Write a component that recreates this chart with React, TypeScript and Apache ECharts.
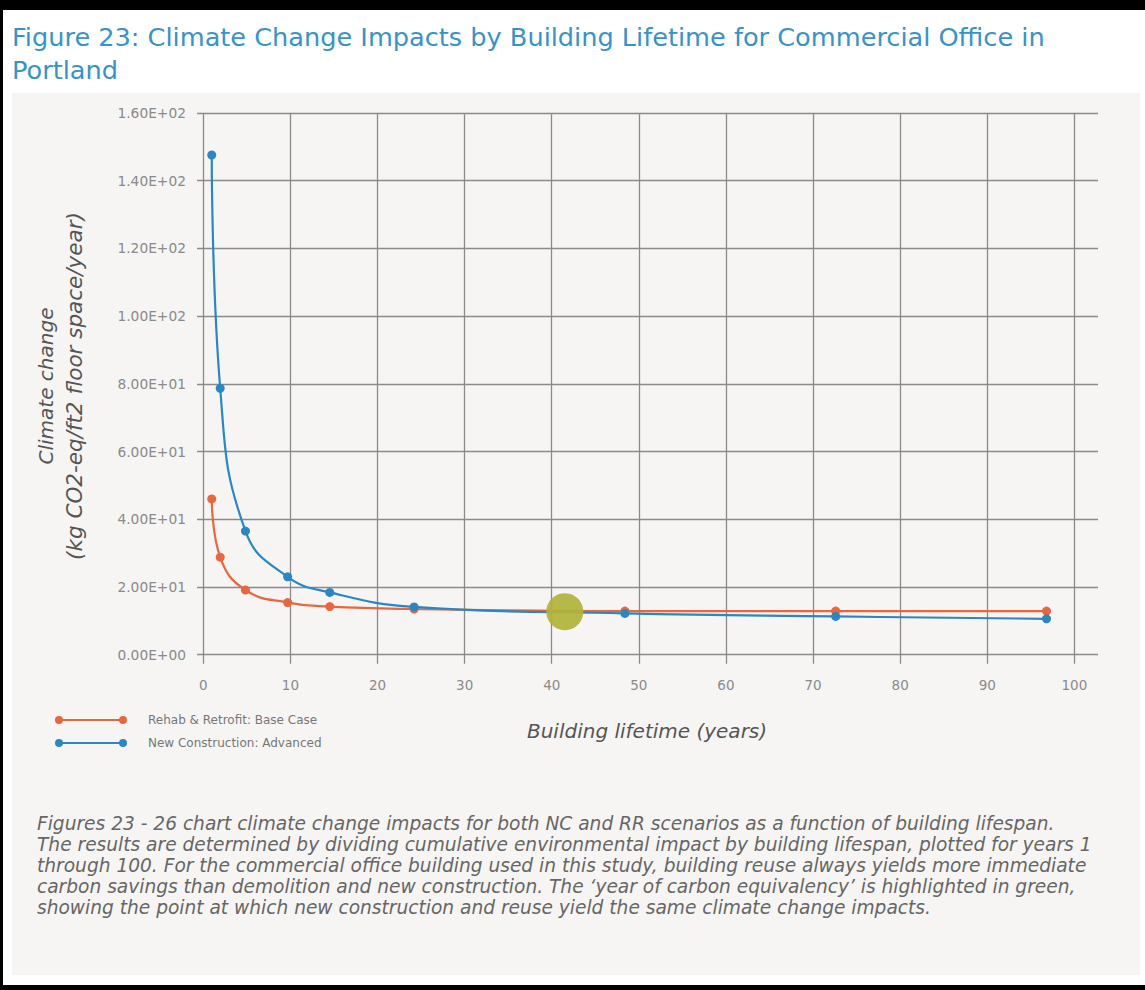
import React, { useEffect, useRef } from "react";
import * as echarts from "echarts";

// ---- data ----
const years = [0.97, 1.94, 4.84, 9.68, 14.52, 24.2, 48.4, 72.6, 96.8];
const rehabValues = [46.0, 28.8, 19.1, 15.4, 14.2, 13.5, 12.9, 12.9, 12.9];
const newConstructionValues = [147.6, 78.7, 36.5, 23.0, 18.4, 14.1, 12.2, 11.3, 10.6];
const equivalencyPoint = [41.5, 12.7];
const seriesNames = ["Rehab & Retrofit: Base Case", "New Construction: Advanced"];
const yTicks = [0, 20, 40, 60, 80, 100, 120, 140, 160];
const xTicks = [0, 10, 20, 30, 40, 50, 60, 70, 80, 90, 100];

const titleLines = [
  "Figure 23: Climate Change Impacts by Building Lifetime for Commercial Office in",
  "Portland",
];
const captionLines = [
  "Figures 23 - 26 chart climate change impacts for both NC and RR scenarios as a function of building lifespan.",
  "The results are determined by dividing cumulative environmental impact by building lifespan, plotted for years 1",
  "through 100. For the commercial office building used in this study, building reuse always yields more immediate",
  "carbon savings than demolition and new construction. The \u2018year of carbon equivalency\u2019 is highlighted in green,",
  "showing the point at which new construction and reuse yield the same climate change impacts.",
];
const yAxisNameLines = ["Climate change", "(kg CO2-eq/ft2 floor space/year)"];
const xAxisName = "Building lifetime (years)";

const ORANGE = "#e8673f";
const BLUE = "#2a87c2";
const GREEN = "#b0b33a";
const GRID = "#8a8a8a";
const FONT = "'DejaVu Sans', sans-serif";

function sci(v: number): string {
  if (v === 0) return "0.00E+00";
  const e = Math.floor(Math.log10(Math.abs(v)));
  const m = v / Math.pow(10, e);
  return `${m.toFixed(2)}E${e >= 0 ? "+" : "-"}${String(Math.abs(e)).padStart(2, "0")}`;
}

const legendIcon =
  "path://M4,0 A4,4 0 1,1 4,8 A4,4 0 1,1 4,0 Z M4,3 L68,3 L68,5 L4,5 Z M68,0 A4,4 0 1,1 68,8 A4,4 0 1,1 68,0 Z";

export default function App() {
  const ref = useRef<HTMLDivElement>(null);

  useEffect(() => {
    if (!ref.current) return;
    const chart = echarts.init(ref.current, undefined, { renderer: "svg" });

    const top = 113;
    const bottom = 990 - 654.7;

    const graphics: any[] = [
      { type: "rect", z: -10, shape: { x: 0, y: 0, width: 1145, height: 990 }, style: { fill: "#000" }, silent: true },
      { type: "rect", z: -9, shape: { x: 3, y: 10, width: 1142, height: 975 }, style: { fill: "#fff" }, silent: true },
      { type: "rect", z: -8, shape: { x: 12, y: 93, width: 1128, height: 882 }, style: { fill: "#f6f5f4" }, silent: true },
    ];
    titleLines.forEach((t, i) => {
      graphics.push({
        type: "text",
        x: 12,
        y: 37 + i * 33,
        style: { text: t, fill: "#3893c6", font: `25.6px ${FONT}`, textVerticalAlign: "middle" },
      });
    });
    captionLines.forEach((t, i) => {
      graphics.push({
        type: "text",
        x: 37,
        y: 823 + i * 21,
        style: { text: t, fill: "#666", font: `oblique 18.6px ${FONT}`, textVerticalAlign: "middle" },
      });
    });
    yAxisNameLines.forEach((t, i) => {
      graphics.push({
        type: "text",
        x: 46 + i * 28,
        y: 386,
        rotation: Math.PI / 2,
        style: { text: t, fill: "#555", font: `oblique ${i === 0 ? 20 : 21.5}px ${FONT}`, textAlign: "center", textVerticalAlign: "middle" },
      });
    });
    graphics.push({
      type: "text",
      x: 647,
      y: 731,
      style: { text: xAxisName, fill: "#555", font: `oblique 20px ${FONT}`, textAlign: "center", textVerticalAlign: "middle" },
    });

    const toPairs = (vals: number[]) => years.map((x, i) => [x, vals[i]]);

    chart.setOption({
      animation: false,
      backgroundColor: "transparent",
      graphic: graphics,
      legend: {
        data: seriesNames,
        orient: "vertical",
        left: 50,
        top: 709,
        itemWidth: 72,
        itemHeight: 8,
        itemGap: 11,
        icon: legendIcon,
        textStyle: { color: "#777", fontSize: 12, fontFamily: FONT, padding: [0, 0, 0, 16] },
      },
      grid: [
        { left: 197, right: 1145 - 1098, top, bottom },
        { left: 203.3, right: 1145 - 1074.4, top, bottom },
      ],
      xAxis: [
        { gridIndex: 0, type: "value", min: 0, max: 1, show: false },
        {
          gridIndex: 1,
          type: "value",
          min: 0,
          max: 100,
          interval: 10,
          axisLine: { show: false },
          axisTick: { show: true, length: 9, lineStyle: { color: GRID, width: 1.3 } },
          splitLine: { show: true, lineStyle: { color: GRID, width: 1.3 } },
          axisLabel: {
            margin: 23,
            color: "#8a8a8a",
            fontSize: 13.5,
            fontFamily: FONT,
            formatter: (v: number) => (xTicks.includes(v) ? String(v) : ""),
          },
        },
      ],
      yAxis: [
        {
          gridIndex: 0,
          type: "value",
          min: 0,
          max: 160,
          interval: 20,
          axisLine: { show: false },
          axisTick: { show: false },
          splitLine: { show: true, lineStyle: { color: GRID, width: 1.3 } },
          axisLabel: {
            margin: 11,
            color: "#8a8a8a",
            fontSize: 13.8,
            fontFamily: FONT,
            formatter: (v: number) => (yTicks.includes(v) ? sci(v) : ""),
          },
        },
        { gridIndex: 1, type: "value", min: 0, max: 160, interval: 20, show: false },
      ],
      series: [
        {
          name: seriesNames[0],
          type: "line",
          xAxisIndex: 1,
          yAxisIndex: 1,
          data: toPairs(rehabValues),
          smooth: 0.45,
          symbol: "circle",
          symbolSize: 9,
          itemStyle: { color: ORANGE },
          lineStyle: { color: ORANGE, width: 2.2 },
          z: 3,
        },
        {
          name: seriesNames[1],
          type: "line",
          xAxisIndex: 1,
          yAxisIndex: 1,
          data: toPairs(newConstructionValues),
          smooth: 0.45,
          symbol: "circle",
          symbolSize: 9,
          itemStyle: { color: BLUE },
          lineStyle: { color: BLUE, width: 2.2 },
          z: 4,
        },
        {
          name: "Year of carbon equivalency",
          type: "scatter",
          xAxisIndex: 1,
          yAxisIndex: 1,
          data: [equivalencyPoint],
          symbolSize: 37,
          itemStyle: { color: GREEN, opacity: 0.93 },
          z: 5,
        },
      ],
    });

    return () => chart.dispose();
  }, []);

  return <div ref={ref} style={{ position: "absolute", left: 0, top: 0, width: 1145, height: 990 }} />;
}
